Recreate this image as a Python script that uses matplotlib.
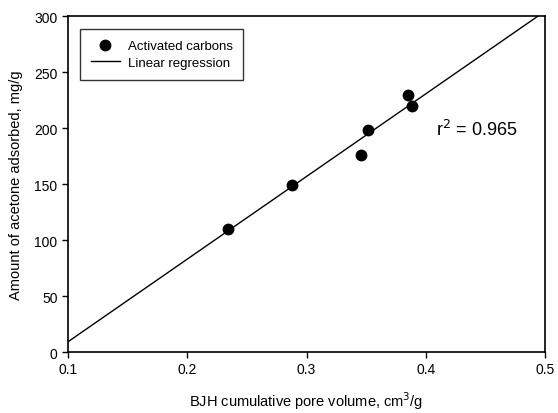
import numpy as np
import matplotlib
matplotlib.use("Agg")
import matplotlib.pyplot as plt

plt.rcParams['font.family'] = ['Liberation Sans', 'DejaVu Sans']

pore_volume = [0.234, 0.288, 0.346, 0.3516, 0.3854, 0.3885]
acetone_adsorbed = [110.0, 149.4, 176.2, 198.2, 229.7, 219.6]
r_squared_label = "r$^2$ = 0.965"
x_ticks = [0.1, 0.2, 0.3, 0.4, 0.5]
y_ticks = [0, 50, 100, 150, 200, 250, 300]

fig = plt.figure(figsize=(5.58, 4.14), dpi=100)
ax = fig.add_axes([0.1219, 0.1473, 0.9767 - 0.1219, 0.9589 - 0.1473])

slope, intercept = np.polyfit(pore_volume, acetone_adsorbed, 1)
xl = np.array([0.1, 0.5])
ax.plot(xl, slope * xl + intercept, color='black', lw=1.0, label='Linear regression')
ax.plot(pore_volume, acetone_adsorbed, 'o', color='black', markersize=7.5,
        label='Activated carbons', zorder=3)

ax.set_xlim(0.1, 0.5)
ax.set_ylim(0, 300)
ax.set_xticks(x_ticks)
ax.set_xticklabels([f"{v:.1f}" for v in x_ticks])
ax.set_yticks(y_ticks)
ax.tick_params(direction='out', length=4, width=1, labelsize=10, colors='black')
for s in ax.spines.values():
    s.set_linewidth(1.2)

ax.set_xlabel("BJH cumulative pore volume, cm$^3$/g", fontsize=10.5, labelpad=9)
ax.set_ylabel("Amount of acetone adsorbed, mg/g", fontsize=10.5, labelpad=8)

ax.text(0.409, 199, r_squared_label, fontsize=13, va='center', ha='left')

handles, labels = ax.get_legend_handles_labels()
leg = ax.legend(handles[::-1], labels[::-1], loc='upper left',
                bbox_to_anchor=(0.012, 0.98), fontsize=9.5, frameon=True,
                fancybox=False, edgecolor='black', handlelength=2.2,
                handletextpad=0.6, borderpad=0.8, labelspacing=0.35)
leg.get_frame().set_linewidth(1.0)

fig.savefig("out.png", dpi=100)
